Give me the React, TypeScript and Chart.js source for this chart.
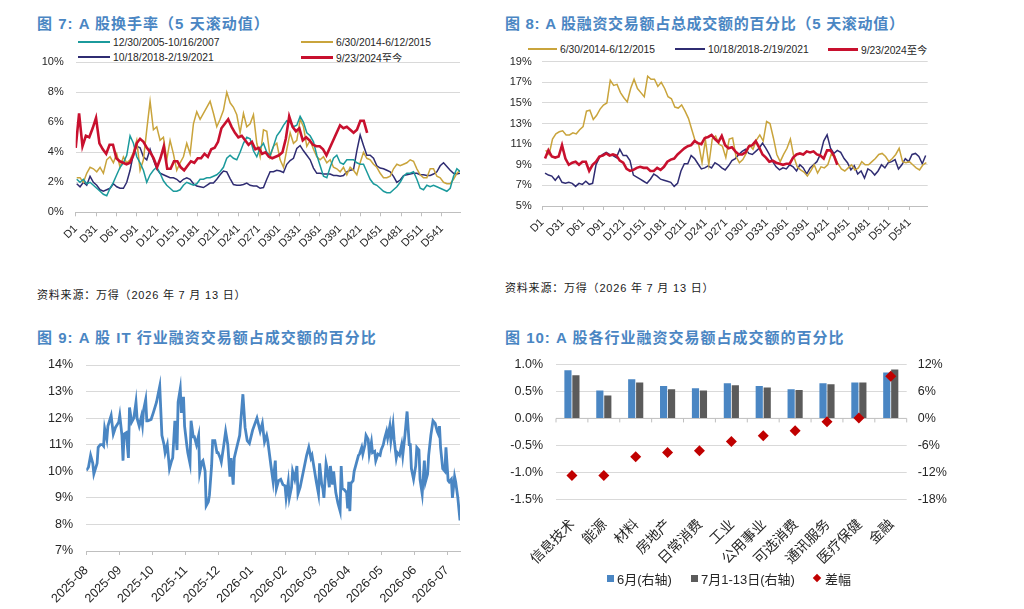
import React, { useEffect, useRef } from 'react';
import { Chart, registerables } from 'chart.js';
Chart.register(...registerables);

const NUM_FONT = "'Liberation Sans', Arial, 'Noto Sans CJK SC', sans-serif";
const TITLE_FONT = "'Liberation Sans', Arial, 'Noto Sans CJK SC', sans-serif";
const CJK_FONT = "'Noto Sans CJK SC', sans-serif";
const INK = '#262626';
const GRID = '#d9d9d9';
const AXIS = '#bfbfbf';
const TITLE_BLUE = '#4a86c3';

const TEAL = '#1b9a9c';
const GOLD = '#c9a43c';
const NAVY = '#2f2c72';
const RED = '#c8102e';
const STEEL = '#4a86c3';
const SLATE = '#5b5b5b';
const DIAMOND = '#c00000';

// 图7 / 图8: trading-day axis D1..D568
const dayTicks = [1, 31, 61, 91, 121, 151, 181, 211, 241, 271, 301, 331, 361, 391, 421, 451, 481, 511, 541];

// 图7 A股换手率 (%), 5 天滚动
const turnover2005 = [
  2.2, 2.0, 2.2, 1.9, 2.0, 1.8, 1.6, 1.4, 1.2, 1.1,
  1.6, 2.0, 2.5, 3.0, 3.3, 3.8, 5.1, 4.6, 3.7, 3.3,
  2.8, 2.0, 2.5, 2.8, 3.0, 2.6, 2.1, 1.8, 1.6, 1.4,
  1.4, 1.5, 1.8, 2.0, 1.9, 1.8, 1.9, 2.2, 2.2, 2.3,
  2.3, 2.4, 2.5, 2.7, 3.0, 3.6, 3.8, 3.6, 3.5, 4.0,
  4.6, 5.0, 4.9, 4.1, 3.7, 4.3, 4.6, 4.0, 3.8, 4.4,
  5.1, 5.4, 5.8, 6.1, 6.0, 5.7, 5.8, 6.4, 6.0, 5.3,
  5.1, 4.7, 3.8, 3.1, 2.4, 2.3, 3.0, 3.6, 3.8, 3.3,
  3.2, 3.5, 3.5, 3.5, 3.3, 3.2, 3.2, 2.7, 2.2, 1.9,
  1.8, 1.6, 1.4, 1.3, 1.3, 1.5, 1.7, 2.0, 2.4, 2.6,
  2.6, 2.7, 2.2, 1.6, 1.5, 1.8, 1.7, 1.8, 1.7, 1.6,
  1.5, 1.4, 1.6, 2.4, 2.9, 2.7,
];
const turnover2014 = [
  2.3, 2.3, 2.0, 2.6, 3.0, 2.9, 2.7, 3.0, 2.6, 3.5,
  3.7, 3.3, 3.9, 3.0, 3.7, 3.3, 3.5, 4.0, 4.8, 2.8,
  3.5, 5.5, 7.4, 5.5, 5.7, 4.8, 5.0, 3.5, 4.8, 3.9,
  2.8, 3.3, 3.7, 4.6, 3.9, 5.9, 6.7, 6.2, 6.6, 7.0,
  7.4, 6.6, 5.7, 6.2, 6.8, 8.0, 7.3, 7.0, 6.5, 5.3,
  6.6, 5.7, 5.9, 6.5, 4.6, 3.7, 5.5, 5.4, 3.7, 4.4,
  4.6, 3.5, 3.0, 4.2, 5.3, 4.6, 4.8, 6.2, 5.7, 4.4,
  4.8, 4.2, 3.7, 3.5, 3.7, 3.3, 3.5, 3.0, 2.9, 2.7,
  3.0, 2.5, 3.0, 2.8, 2.5, 3.3, 4.0, 3.6, 3.5, 3.2,
  3.0, 2.6, 2.3, 2.3, 2.4, 2.9, 3.2, 3.1, 3.2, 3.3,
  3.5, 3.4, 2.9, 2.5, 2.3, 2.3, 2.9, 2.9, 2.4, 2.3,
  2.0, 1.9, 1.9, 2.2, 2.6, 2.8,
];
const turnover2018 = [
  1.9, 1.7, 2.0, 1.8, 2.4, 2.0, 1.8, 1.5, 1.4, 1.5,
  1.6, 1.9, 1.7, 1.6, 1.6, 2.0, 2.8, 3.9, 4.4, 4.3,
  3.7, 3.5, 4.2, 3.5, 2.9, 2.6, 2.5, 2.4, 2.3, 2.3,
  2.2, 2.0, 2.2, 2.3, 2.2, 1.9, 1.75, 1.7, 1.65, 1.8,
  1.95, 1.95, 2.2, 2.5, 2.75, 2.7, 2.25, 1.85, 1.8, 1.8,
  1.85, 1.95, 1.8, 1.75, 1.75, 1.6, 1.65, 2.2, 2.7, 2.7,
  2.8, 2.75, 2.65, 3.2, 3.45, 3.6, 4.25, 4.45, 4.1, 3.8,
  3.5, 2.95, 2.6, 2.6, 2.55, 2.55, 2.55, 2.45, 2.45, 2.4,
  2.45, 2.7, 2.8, 2.85, 4.1, 5.15, 4.45, 3.8, 3.8, 3.6,
  3.1, 2.95, 2.9, 2.8, 2.7, 2.4, 2.0, 2.15, 2.45, 2.5,
  2.55, 2.6, 2.6, 2.5, 2.5, 2.45, 2.45, 2.55, 2.7, 3.1,
  3.3, 3.05, 2.8, 2.6, 2.55, 2.6,
];
const turnover2024 = [
  4.3, 6.6, 4.4, 5.1, 5.0, 5.6, 6.3, 4.6, 4.2, 3.9,
  4.5, 4.5, 3.6, 3.4, 3.3, 3.2, 3.3, 3.8, 4.6, 4.9,
  4.7, 4.3, 4.0, 3.6, 3.0, 3.6, 4.4, 2.9, 2.9, 3.4,
  3.4, 3.0, 2.8, 3.1, 3.4, 3.3, 3.6, 3.6, 3.9, 3.7,
  4.2, 4.3, 4.7, 5.6, 5.9, 6.2, 5.7, 5.3, 5.0, 5.1,
  4.8, 4.5, 4.7, 4.2, 4.3, 3.9, 4.0, 3.7, 3.6, 3.7,
  3.8, 4.0, 4.9, 6.4, 5.7, 5.4, 5.6, 4.8, 5.0, 4.8,
  4.5, 4.4, 4.4, 4.2, 3.8, 4.3, 4.8, 5.3, 5.8, 5.6,
  5.7, 5.5, 5.3, 5.5, 6.1, 6.1, 5.3,
];

// 图8 融资交易额占总成交额 (%), 5 天滚动
const margin2014 = [
  10.4, 10.0, 11.5, 12.0, 12.2, 12.3, 11.9, 11.9, 12.1, 12.0,
  12.4, 12.7, 14.2, 14.3, 13.4, 13.8, 14.4, 14.8, 15.0, 17.2,
  16.7, 16.8, 16.0, 15.5, 15.1, 16.4, 17.3, 16.4, 16.0, 15.6,
  17.6, 17.3, 17.3, 16.6, 17.0, 16.4, 15.6, 15.4, 14.6, 14.5,
  14.8, 14.2, 13.5, 12.4, 11.3, 11.0, 9.2, 11.4, 9.0, 11.5,
  11.8, 11.0, 10.8, 9.7, 11.5, 11.6, 9.8, 9.2,
  9.5, 10.1, 10.9, 10.5, 11.4, 11.9, 11.3, 13.2, 13.0, 11.6,
  10.0, 9.3, 10.0, 10.6, 11.5, 9.8, 8.8, 8.5, 8.3, 7.9,
  8.4, 9.0, 8.2, 8.8, 8.7, 9.0, 10.0, 9.8, 9.1, 8.6,
  8.4, 8.7, 9.0, 8.5, 8.7, 9.3, 9.0, 9.0, 9.3, 9.6,
  10.0, 10.1, 9.8, 9.3, 9.6, 10.0, 10.6, 9.3, 9.2, 9.3,
  9.0, 8.7, 8.5, 9.0, 9.2,
];
const margin2018 = [
  8.2, 8.0, 7.9, 7.5, 7.9, 7.3, 7.2, 7.3, 7.2, 6.9,
  7.2, 7.1, 7.4, 7.1, 7.2, 9.0, 9.7, 10.0, 10.2, 10.0,
  9.9, 9.7, 10.5, 9.9, 9.9, 9.4, 8.0, 7.8, 7.6, 7.4,
  7.2, 7.6, 8.1, 7.9, 7.6, 7.5, 7.4, 7.3, 6.9, 7.2,
  8.4, 9.1, 9.1, 9.9, 9.6, 9.1, 8.6, 8.7, 8.9, 8.7,
  9.2, 9.0, 8.7, 8.5, 8.9, 9.4, 9.6, 10.0,
  10.3, 10.5, 10.1, 10.0, 10.3, 10.6, 11.1, 10.6, 10.0, 9.3,
  8.8, 8.5, 8.7, 8.6, 9.0, 8.8, 8.4, 9.0, 8.7, 8.1,
  8.7, 9.0, 9.3, 10.0, 11.3, 11.9, 10.6, 10.1, 10.4, 10.2,
  9.6, 9.2, 8.5, 8.9, 8.1, 8.4, 7.7, 8.6, 8.4, 8.0,
  8.4, 9.0, 8.7, 9.2, 9.3, 9.5, 8.6, 9.0, 9.6, 9.3,
  10.0, 10.1, 9.8, 9.1, 9.9,
];
const margin2024 = [
  9.6, 10.4, 9.8, 9.7, 9.8, 10.9, 9.6, 9.0, 9.2, 9.3,
  9.0, 9.3, 9.3, 8.4, 9.0, 9.3, 9.8, 9.9, 10.1, 9.9,
  10.0, 9.9, 9.4, 9.2, 8.6, 8.4, 8.5, 8.7, 8.8, 8.7,
  8.7, 8.4, 8.4, 8.7, 8.5, 8.8, 9.3, 9.5, 9.6, 10.0,
  10.3, 10.6, 10.8, 10.9, 11.3, 11.1, 11.0, 11.6, 11.7, 11.9,
  11.5, 11.2, 11.8, 10.9, 10.6, 10.7, 10.3, 10.0,
  10.0, 10.2, 10.8, 10.9, 11.3, 10.7, 10.0, 9.7, 9.3, 9.4,
  9.2, 9.1, 9.0, 9.1, 9.1, 9.7, 10.0, 10.1, 10.0, 10.3,
  10.2, 10.3, 10.0, 9.9, 9.6, 10.4, 10.4, 9.9, 9.0,
];

// 图9 IT 行业融资交易额占比 (%); 日期 = 2025-08-01 起的天数
const monthStarts = [0, 31, 61, 92, 122, 153, 184, 212, 243, 273, 304, 334];
const monthLabels = ['2025-08', '2025-09', '2025-10', '2025-11', '2025-12', '2026-01', '2026-02', '2026-03', '2026-04', '2026-05', '2026-06', '2026-07'];
const itDay = [
  0, 2, 4, 6, 7, 10, 11, 13, 15, 16, 17, 19, 20, 23, 25, 27, 30, 31, 33, 34,
  35, 37, 39, 40, 42, 44, 46, 47, 49, 51, 52, 53, 55, 56, 57, 60, 62, 65, 68, 70,
  72, 73, 75, 77, 79, 80, 82, 84, 85, 87, 88, 90, 91, 93, 94, 96, 97, 99, 100, 102,
  104, 105, 107, 108, 110, 111, 113, 114, 116, 117, 119, 121, 122, 124, 125, 127, 129, 131, 133, 134,
  136, 137, 139, 142, 145, 147, 149, 151, 154, 158, 161, 163, 165, 167, 168, 171, 173, 175, 176, 178,
  180, 182, 184, 185, 187, 188, 190, 191, 193, 195, 196, 198, 201, 204, 206, 208, 209, 211, 213, 215,
  216, 218, 219, 220, 222, 223, 225, 226, 228, 229, 231, 233, 235, 236, 237, 239, 241, 242, 243, 244,
  245, 247, 248, 250, 252, 253, 255, 256, 258, 259, 261, 262, 264, 265, 267, 268, 270, 272, 273, 275,
  276, 278, 279, 281, 282, 284, 285, 287, 288, 290, 292, 293, 295, 297, 299, 300, 301, 303, 305, 306,
  308, 309, 311, 313, 314, 316, 317, 319, 321, 323, 325, 326, 327, 328, 330, 332, 333, 335, 336, 338,
  339, 341, 342, 344, 346,
];
const itShare = [
  10.03, 10.15, 10.6, 10.3, 9.9, 10.3, 10.9, 11.0, 11.0, 10.95, 11.6, 11.2, 11.7, 12.1, 11.4, 11.65, 11.85, 12.1, 11.35, 10.4,
  11.4, 11.45, 10.5, 12.4, 11.85, 12.0, 12.6, 12.0, 11.7, 12.05, 11.75, 12.3, 12.7, 11.9, 11.9, 11.95, 12.2, 12.6, 13.2, 11.35,
  11.0, 10.7, 11.0, 10.1, 10.4, 10.5, 11.9, 10.8, 12.6, 13.1, 12.2, 12.8, 11.7, 11.0, 10.7, 10.3, 11.9, 11.3, 11.3, 11.0,
  11.35, 9.95, 10.35, 10.4, 10.0, 8.7, 8.85, 9.1, 10.2, 11.15, 11.15, 10.7, 10.7, 10.5, 10.35, 10.9, 11.5, 11.0, 9.8, 10.5,
  9.5, 10.5, 10.85, 11.35, 12.9, 11.65, 11.15, 11.05, 11.55, 12.0, 11.5, 11.8, 11.1, 11.35, 11.15, 10.2, 9.6, 10.4, 9.35, 9.65,
  9.7, 9.5, 9.45, 9.0, 9.6, 9.0, 9.4, 10.0, 9.7, 10.2, 9.15, 9.4, 10.0, 10.6, 10.9, 10.5, 10.6, 10.1, 9.6, 9.15,
  10.3, 9.5, 9.35, 9.0, 10.3, 10.1, 9.4, 10.2, 9.5, 10.0, 9.2, 8.8, 8.5, 10.2, 9.35, 9.3, 9.2, 8.6, 9.6, 8.5,
  9.55, 9.65, 10.0, 10.3, 10.6, 10.65, 10.9, 10.65, 11.0, 11.35, 11.2, 10.65, 11.1, 10.7, 10.75, 10.4, 10.65, 10.6, 10.8, 11.0,
  11.2, 11.5, 11.25, 11.7, 11.15, 11.75, 11.2, 10.5, 10.7, 10.6, 11.0, 10.6, 11.35, 12.25, 11.0, 11.0, 10.1, 9.7, 10.2, 10.9,
  10.8, 9.7, 9.15, 10.4, 9.6, 9.9, 10.6, 11.35, 11.9, 11.8, 11.5, 11.4, 11.7, 10.9, 10.1, 10.0, 10.9, 9.65, 9.6, 9.7,
  9.0, 9.8, 9.6, 9.0, 8.15,
];

// 图10 各行业融资交易额占成交额
const sectors = ['信息技术', '能源', '材料', '房地产', '日常消费', '工业', '公用事业', '可选消费', '通讯服务', '医疗保健', '金融'];
const shareJune = [10.7, 6.2, 8.7, 7.2, 6.7, 7.8, 7.2, 6.5, 7.8, 8.0, 10.2];
const shareJuly = [9.6, 5.1, 8.0, 6.5, 6.2, 7.4, 6.9, 6.3, 7.6, 8.0, 10.9];
const shareGap = [-1.06, -1.06, -0.71, -0.63, -0.6, -0.43, -0.32, -0.23, -0.06, 0.01, 0.78];

const atDays = (values: number[], first: number, step: number) =>
  values.map((y, i) => ({ x: first + i * step, y }));

const line = (label: string, data: any[], color: string, width: number, order: number) => ({
  label,
  data,
  borderColor: color,
  backgroundColor: color,
  borderWidth: width,
  pointRadius: 0,
  tension: 0,
  order,
});

const dayAxis = (height: number) => ({
  type: 'linear',
  min: 1,
  max: 568,
  afterBuildTicks: (s: any) => {
    s.ticks = dayTicks.map((value) => ({ value }));
  },
  afterFit: (s: any) => {
    s.height = height;
  },
  grid: { drawOnChartArea: false, color: AXIS, tickLength: 4 },
  border: { color: AXIS },
  ticks: {
    autoSkip: false,
    minRotation: 45,
    maxRotation: 45,
    padding: 6,
    color: INK,
    font: { family: NUM_FONT, size: 11 },
    callback: (v: number) => 'D' + v,
  },
});

// the gap between labels and plot comes from an invisible tick mark, so the
// axis does not ask for extra room above the chart area
const pctAxis = (min: number, max: number, step: number, width: number, gap: number, size: number, digits = 0) => ({
  min,
  max,
  afterFit: (s: any) => {
    s.width = width;
  },
  grid: { color: GRID, drawTicks: true, tickLength: gap - 2, tickColor: 'rgba(0,0,0,0)' },
  border: { display: false },
  ticks: {
    stepSize: step,
    padding: 2,
    color: INK,
    font: { family: NUM_FONT, size },
    callback: (v: number) => v.toFixed(digits) + '%',
  },
});

const baseOptions = (padding: any) => ({
  animation: false,
  responsive: true,
  maintainAspectRatio: false,
  layout: { padding },
  plugins: { legend: { display: false }, tooltip: { enabled: false } },
});

const turnoverConfig = () => ({
  type: 'line',
  data: {
    datasets: [
      line('9/23/2024至今', atDays(turnover2024, 1, 5), RED, 2.6, 0),
      line('12/30/2005-10/16/2007', atDays(turnover2005, 2.5, 4.92), TEAL, 1.5, 1),
      line('6/30/2014-6/12/2015', atDays(turnover2014, 2.5, 4.92), GOLD, 1.5, 2),
      line('10/18/2018-2/19/2021', atDays(turnover2018, 2.5, 4.92), NAVY, 1.5, 3),
    ],
  },
  options: {
    ...baseOptions({ top: 12.3, right: 10, left: 0, bottom: 0 }),
    scales: { x: dayAxis(57.7), y: pctAxis(0, 10, 2, 75.7, 12, 11) },
  },
});

const marginConfig = () => ({
  type: 'line',
  data: {
    datasets: [
      line('9/23/2024至今', atDays(margin2024, 5, 5), RED, 2.6, 0),
      line('6/30/2014-6/12/2015', atDays(margin2014, 6, 5), GOLD, 1.5, 1),
      line('10/18/2018-2/19/2021', atDays(margin2018, 5, 5), NAVY, 1.5, 2),
    ],
  },
  options: {
    ...baseOptions({ top: 11.7, right: 12.3, left: 0, bottom: 0 }),
    scales: { x: dayAxis(64), y: pctAxis(5, 19, 2, 72.3, 10.6, 11) },
  },
});

const itConfig = () => ({
  type: 'line',
  data: {
    datasets: [
      line('IT', itDay.map((x, i) => ({ x, y: itShare[i] })), STEEL, 2.8, 0),
    ],
  },
  options: {
    ...baseOptions({ top: 10, right: 10, left: 0, bottom: 0 }),
    scales: {
      x: {
        type: 'linear',
        min: 0,
        max: 346,
        afterBuildTicks: (s: any) => {
          s.ticks = monthStarts.map((value) => ({ value }));
        },
        afterFit: (s: any) => {
          s.height = 58;
        },
        grid: { drawOnChartArea: false, color: AXIS, tickLength: 4 },
        border: { color: AXIS },
        ticks: {
          autoSkip: false,
          minRotation: 45,
          maxRotation: 45,
          padding: 8,
          color: INK,
          font: { family: NUM_FONT, size: 12.5 },
          callback: (_v: number, i: number) => monthLabels[i],
        },
      },
      y: pctAxis(7, 14, 1, 86.3, 13.3, 12.5),
    },
  },
});

const zeroLineTicks = {
  id: 'zeroLineTicks',
  beforeDatasetsDraw(chart: any) {
    const { ctx } = chart;
    const x = chart.scales.x;
    const y0 = chart.scales.y.getPixelForValue(0);
    const half = (x.getPixelForValue(1) - x.getPixelForValue(0)) / 2;
    ctx.save();
    ctx.strokeStyle = AXIS;
    ctx.lineWidth = 1;
    ctx.beginPath();
    ctx.moveTo(x.getPixelForValue(0) - half, y0);
    ctx.lineTo(x.getPixelForValue(sectors.length - 1) + half, y0);
    for (let i = 0; i <= sectors.length; i++) {
      const px = x.getPixelForValue(i) - half;
      ctx.moveTo(px, y0);
      ctx.lineTo(px, y0 + 4);
    }
    ctx.stroke();
    ctx.restore();
  },
};

const sectorConfig = () => ({
  type: 'bar',
  data: {
    labels: sectors,
    datasets: [
      {
        type: 'line',
        label: '差幅',
        data: shareGap,
        yAxisID: 'y',
        showLine: false,
        pointStyle: 'rectRot',
        pointRadius: 5.5,
        backgroundColor: DIAMOND,
        borderColor: DIAMOND,
        borderWidth: 0,
        order: 0,
      },
      {
        label: '6月(右轴)',
        data: shareJune,
        yAxisID: 'y1',
        backgroundColor: STEEL,
        categoryPercentage: 0.5,
        barPercentage: 0.9,
        order: 1,
      },
      {
        label: '7月1-13日(右轴)',
        data: shareJuly,
        yAxisID: 'y1',
        backgroundColor: SLATE,
        categoryPercentage: 0.5,
        barPercentage: 0.9,
        order: 2,
      },
    ],
  },
  options: {
    ...baseOptions({ top: 9, right: 0, left: 0, bottom: 0 }),
    scales: {
      x: {
        afterFit: (s: any) => {
          s.height = 70.7;
        },
        grid: { display: false, drawTicks: false },
        border: { display: false },
        ticks: {
          autoSkip: false,
          minRotation: 45,
          maxRotation: 45,
          padding: 16,
          color: INK,
          font: { family: CJK_FONT, size: 14 },
        },
      },
      y: (() => {
        const axis: any = pctAxis(-1.5, 1.0, 0.5, 86, 13, 12.5, 1);
        axis.grid = {
          ...axis.grid,
          color: (c: any) => (c.tick && c.tick.value === 0 ? 'rgba(0,0,0,0)' : GRID),
        };
        return axis;
      })(),
      y1: (() => {
        const axis: any = pctAxis(-18, 12, 6, 53.3, 11, 12.5);
        axis.position = 'right';
        axis.grid = { ...axis.grid, drawOnChartArea: false };
        return axis;
      })(),
    },
  },
  plugins: [zeroLineTicks],
});

type Box = { left: number; top: number; width: number; height: number };

function ChartBox({ make, box }: { make: () => any; box: Box }) {
  const ref = useRef<HTMLCanvasElement>(null);
  useEffect(() => {
    const chart = new Chart(ref.current as HTMLCanvasElement, make());
    return () => chart.destroy();
  }, []);
  return (
    <div style={{ position: 'absolute', ...box }}>
      <canvas ref={ref} />
    </div>
  );
}

const Title = ({ left, y, spacing = 1, children }: any) => (
  <div
    style={{
      position: 'absolute',
      left,
      top: y - 10,
      height: 20,
      lineHeight: '20px',
      fontFamily: TITLE_FONT,
      fontWeight: 'bold',
      fontSize: 15,
      letterSpacing: spacing,
      color: TITLE_BLUE,
      whiteSpace: 'nowrap',
    }}
  >
    {children}
  </div>
);

const Source = ({ left, y }: any) => (
  <div
    style={{
      position: 'absolute',
      left,
      top: y - 8,
      height: 16,
      lineHeight: '16px',
      fontFamily: TITLE_FONT,
      fontSize: 11,
      letterSpacing: 0.8,
      color: '#1a1a1a',
      whiteSpace: 'nowrap',
    }}
  >
    资料来源：万得（2026 年 7 月 13 日）
  </div>
);

const LineKey = ({ left, y, len, thick, color, label }: any) => (
  <div
    style={{
      position: 'absolute',
      left,
      top: y - 8,
      height: 16,
      display: 'flex',
      alignItems: 'center',
      fontFamily: NUM_FONT,
      fontSize: 10.3,
      color: INK,
      whiteSpace: 'nowrap',
    }}
  >
    <span style={{ display: 'inline-block', width: len, height: thick, background: color, marginRight: 3 }} />
    {label}
  </div>
);

const MarkKey = ({ left, y, color, diamond, label }: any) => (
  <div
    style={{
      position: 'absolute',
      left,
      top: y - 9,
      height: 18,
      display: 'flex',
      alignItems: 'center',
      fontFamily: NUM_FONT,
      fontSize: 13,
      color: INK,
      whiteSpace: 'nowrap',
    }}
  >
    <span
      style={{
        display: 'inline-block',
        width: diamond ? 6 : 7,
        height: diamond ? 6 : 7,
        background: color,
        transform: diamond ? 'rotate(45deg)' : 'none',
        marginRight: diamond ? 5 : 3,
      }}
    />
    {label}
  </div>
);

export default function App() {
  return (
    <div style={{ position: 'absolute', left: 0, top: 0, width: 1024, height: 609, background: '#fff', overflow: 'hidden' }}>
      <Title left={37} y={24} spacing={1}>图 7: A 股换手率（5 天滚动值）</Title>
      <LineKey left={78} y={42} len={32} thick={2} color={TEAL} label="12/30/2005-10/16/2007" />
      <LineKey left={301} y={42} len={32} thick={2} color={GOLD} label="6/30/2014-6/12/2015" />
      <LineKey left={78} y={57} len={32} thick={2} color={NAVY} label="10/18/2018-2/19/2021" />
      <LineKey left={301} y={57} len={32} thick={3} color={RED} label="9/23/2024至今" />
      <ChartBox make={turnoverConfig} box={{ left: 0, top: 50, width: 470, height: 220 }} />
      <Source left={37} y={295} />

      <Title left={505} y={24} spacing={0.7}>图 8: A 股融资交易额占总成交额的百分比（5 天滚动值）</Title>
      <LineKey left={528} y={49} len={29} thick={2} color={GOLD} label="6/30/2014-6/12/2015" />
      <LineKey left={675} y={49} len={30} thick={2} color={NAVY} label="10/18/2018-2/19/2021" />
      <LineKey left={828} y={49} len={30} thick={3} color={RED} label="9/23/2024至今" />
      <ChartBox make={marginConfig} box={{ left: 470, top: 50, width: 470, height: 220 }} />
      <Source left={505} y={288} />

      <Title left={37} y={338}>图 9: A 股 IT 行业融资交易额占成交额的百分比</Title>
      <ChartBox make={itConfig} box={{ left: 0, top: 355, width: 470, height: 254 }} />

      <Title left={505} y={338}>图 10: A 股各行业融资交易额占成交额的百分比</Title>
      <ChartBox make={sectorConfig} box={{ left: 470, top: 355, width: 490, height: 215 }} />
      <MarkKey left={607} y={578} color={STEEL} label="6月(右轴)" />
      <MarkKey left={691} y={578} color={SLATE} label="7月1-13日(右轴)" />
      <MarkKey left={814} y={578} color={DIAMOND} diamond label="差幅" />
    </div>
  );
}
